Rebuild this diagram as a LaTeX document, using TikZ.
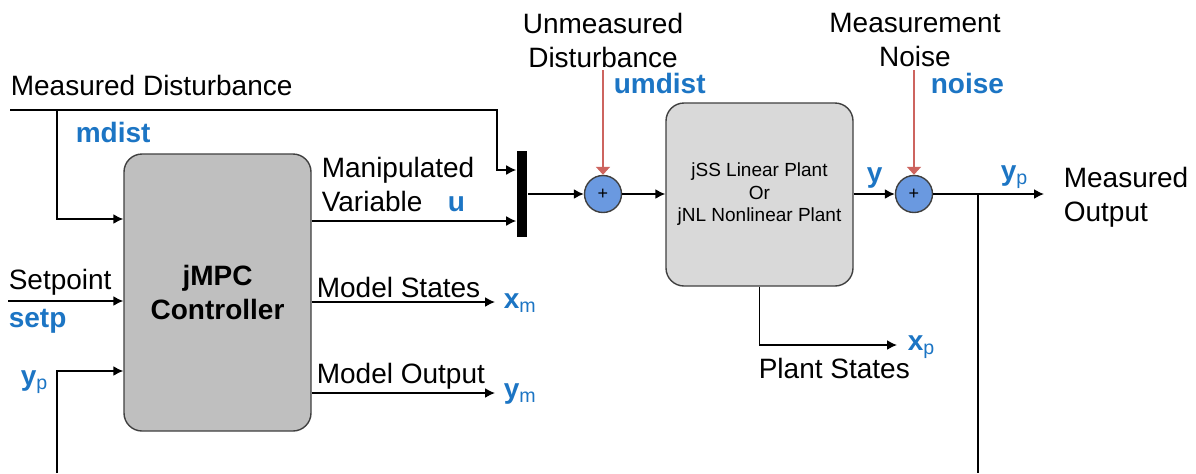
\documentclass[tikz,border=0pt]{standalone}
\usepackage{fontspec}
\setmainfont{Liberation Sans}
\usepackage{tikz}
\usetikzlibrary{arrows.meta}
\definecolor{jblue}{RGB}{28,117,196}
\definecolor{jsum}{RGB}{106,153,224}
\definecolor{jred}{RGB}{205,100,95}
\definecolor{jedge}{RGB}{64,64,64}
\definecolor{jctrl}{RGB}{191,191,191}
\definecolor{jplant}{RGB}{217,217,217}

\begin{document}
\begin{tikzpicture}[>={Latex[length=5pt,width=5pt]}, x=0.5pt, y=-0.5pt, font=\fontsize{14}{17}\selectfont, line width=0.8pt]
\tikzstyle{block}=[draw=jedge, line width=0.7pt, rounded corners=9pt, inner sep=0pt, align=center, minimum width=93.5pt]
\tikzstyle{sum}=[circle, draw=jedge, line width=0.7pt, fill=jsum, minimum size=18.5pt, inner sep=0pt, font=\fontsize{9}{9}\selectfont]
\tikzstyle{sig}=[text=jblue, font=\fontsize{14}{17}\selectfont\bfseries, inner sep=0pt, anchor=base west]
\tikzstyle{lbl}=[inner sep=0pt, anchor=base west]
\tikzstyle{dist}=[draw=jred, line width=0.8pt, -{Triangle[length=4pt,width=7pt]}]

\useasboundingbox (0,0) rectangle (1196,473);
\fill[white] (0,0) rectangle (1196,473);

% blocks
\node[block, fill=jctrl, minimum height=138.5pt, font=\fontsize{14}{17}\selectfont\bfseries] (ctrl) at (217.5,292.5) {jMPC\\Controller};
\node[block, fill=jplant, minimum height=91.5pt, font=\fontsize{9.5}{11.25}\selectfont] (plant) at (759.5,194.5) {jSS Linear Plant\\Or\\jNL Nonlinear Plant};
\node[fill=black, minimum width=5pt, minimum height=43pt, inner sep=0pt] (mux) at (522,194) {};
\node[sum] (sumu) at (603,194) {+};
\node[sum] (sumn) at (914,194) {+};

% labels
\node[lbl] (mdtxt) at (10,95) {Measured Disturbance};
\node[sig] (mdist) at (75,142) {mdist};
\node[lbl] (sptxt) at (8,289) {Setpoint};
\node[sig] (setp) at (8,327) {setp};
\node[sig] (ypl) at (20,385) {y\textsubscript{\mdseries p}};
\node[lbl, anchor=north west, align=left] (mvtxt) at (321,156.5) {Manipulated\\Variable};
\node[sig] (u) at (447,211) {u};
\node[lbl] (mstxt) at (316,297) {Model States};
\node[lbl] (motxt) at (316,383) {Model Output};
\node[sig] (xm) at (503,308) {x\textsubscript{\mdseries m}};
\node[sig] (ym) at (503,398) {y\textsubscript{\mdseries m}};
\node[lbl, anchor=north, align=center] (umtxt) at (603,12) {Unmeasured\\Disturbance};
\node[sig] (umdist) at (613,93) {umdist};
\node[lbl, anchor=north, align=center] (mntxt) at (915,12) {Measurement\\Noise};
\node[sig] (noise) at (930,93) {noise};
\node[sig] (y) at (866,182) {y};
\node[sig] (ypr) at (1000,180) {y\textsubscript{\mdseries p}};
\node[lbl, anchor=north west, align=left] (outtxt) at (1063,166) {Measured\\Output};
\node[sig] (xp) at (907,350) {x\textsubscript{\mdseries p}};
\node[lbl] (pstxt) at (758,378) {Plant States};

% points
\coordinate (mdstart) at (10,110);
\coordinate (mdsplit) at (57,110);
\coordinate (mdcorner) at (497,110);
\coordinate (mdbend) at (497,170);
\coordinate (mdin) at (57,219);
\coordinate (spstart) at (8,301);
\coordinate (fbstart) at (57,473);
\coordinate (fbbend) at (57,371);
\coordinate (ulev) at (400,221);
\coordinate (xmend) at (495,302);
\coordinate (ymend) at (495,393);
\coordinate (umtop) at (603,70);
\coordinate (nztop) at (914,70);
\coordinate (yout) at (1044,194);
\coordinate (fbend) at (978,473);
\coordinate (xpend) at (897,345);

% signals
\draw[->] (mdstart) -- (mdcorner) -- (mdbend) -- (mdbend -| mux.west);
\draw[->] (mdsplit) -- (mdin) -- (mdin -| ctrl.west);
\draw[->] (spstart) -- (spstart -| ctrl.west);
\draw[->] (fbstart) -- (fbbend) -- (fbbend -| ctrl.west);
\draw[->] (ulev -| ctrl.east) -- (ulev -| mux.west);
\draw[->] (xmend -| ctrl.east) -- (xmend);
\draw[->] (ymend -| ctrl.east) -- (ymend);
\draw[->] (mux.east) -- (sumu.west);
\draw[->] (sumu.east) -- (sumu.east -| plant.west);
\draw[->] (plant.east |- sumn) -- (sumn.west);
\draw[->] (sumn.east) -- (yout);
\draw (fbend |- sumn) -- (fbend);
\draw[->] (plant.south) |- (xpend);
\draw[dist] (umtop) -- (sumu.north);
\draw[dist] (nztop) -- (sumn.north);
\end{tikzpicture}
\end{document}
